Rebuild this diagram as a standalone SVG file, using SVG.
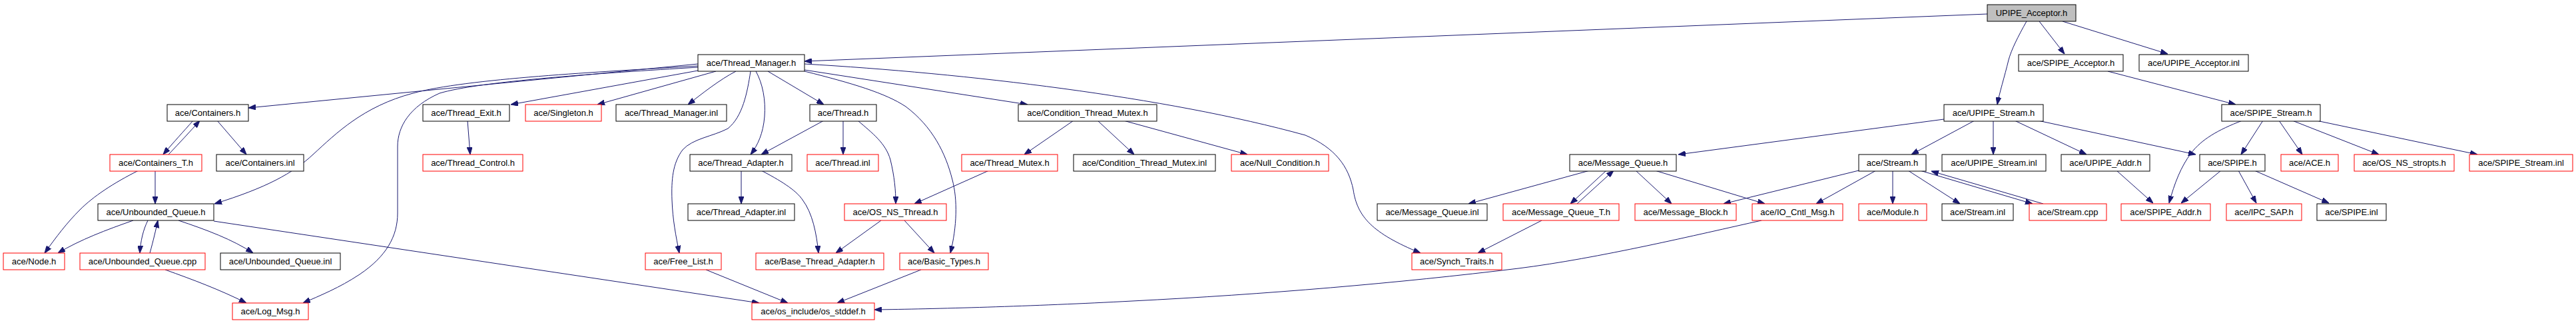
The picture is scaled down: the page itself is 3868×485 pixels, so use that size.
<svg xmlns="http://www.w3.org/2000/svg" width="3868" height="485" viewBox="0 0 3868 485">
<style>
.n rect{fill:#ffffff;stroke:#000000;stroke-width:1}
.r rect{stroke:#ff0000}
.g rect{fill:#bfbfbf}
.n text{font-family:"Liberation Sans",Arial,sans-serif;font-size:13px;fill:#000000;text-anchor:middle}
#edges path{fill:none;stroke:#191970;stroke-width:1;marker-end:url(#ah)}
</style>
<defs>
<marker id="ah" markerWidth="11" markerHeight="8" refX="11" refY="4" orient="auto" markerUnits="userSpaceOnUse"><path d="M0,0 L11,4 L0,8 z" fill="#191970" stroke="#191970" stroke-width="1"/></marker>
</defs>
<rect x="0" y="0" width="3868" height="485" fill="#ffffff"/>
<g id="edges">
<path d="M2984,21 L1208,92"/>
<path d="M3043,32 C3030,55 3020,75 3016,90 C3010,115 3002,140 2999,157"/>
<path d="M3062,32 L3100,81"/>
<path d="M3097,32 L3255,81"/>
<path d="M1048,96 L373,162"/>
<path d="M1048,99 C900,108 700,118 620,140 C545,160 505,200 470,232 C440,260 400,282 322,306"/>
<path d="M1048,101 C900,110 720,122 660,140 C615,160 597,190 597,220 L597,320 C597,355 580,385 540,412 C510,432 480,444 455,455"/>
<path d="M1048,106 L767,157"/>
<path d="M1075,107 L897,157"/>
<path d="M1105,107 C1080,120 1055,140 1033,157"/>
<path d="M1127,107 C1122,140 1115,175 1093,193 C1070,205 1040,208 1025,225 C1010,245 1008,270 1009,300 C1010,330 1015,355 1020,380"/>
<path d="M1135,107 C1145,125 1150,150 1148,175 C1146,200 1138,218 1127,232"/>
<path d="M1153,107 L1237,157"/>
<path d="M1208,107 C1280,125 1330,140 1360,160 C1400,190 1420,230 1430,270 C1438,300 1437,340 1427,380"/>
<path d="M1208,105 L1543,157"/>
<path d="M1208,96 C1450,110 1750,145 1960,203 C2005,222 2025,250 2032,285 C2038,325 2060,350 2133,380"/>
<path d="M290,181 C275,198 262,212 245,232"/>
<path d="M253,232 C270,214 285,198 300,181"/>
<path d="M326,181 L370,232"/>
<path d="M233,256 L233,306"/>
<path d="M208,256 C170,275 140,295 120,315 C100,335 85,355 67,380"/>
<path d="M200,331 C160,345 120,360 87,380"/>
<path d="M222,331 C215,345 211,362 210,380"/>
<path d="M225,380 C230,362 234,345 237,331"/>
<path d="M268,331 C310,345 350,360 380,380"/>
<path d="M321,332 L1140,455"/>
<path d="M248,405 C290,420 330,435 370,455"/>
<path d="M702,181 L706,232"/>
<path d="M1237,181 L1143,232"/>
<path d="M1266,181 L1266,232"/>
<path d="M1288,181 C1310,200 1330,215 1337,240 C1343,265 1345,285 1345,306"/>
<path d="M1113,256 L1113,306"/>
<path d="M1143,256 C1170,270 1195,285 1205,300 C1220,320 1226,350 1229,380"/>
<path d="M1323,331 L1255,380"/>
<path d="M1358,331 L1403,380"/>
<path d="M1383,405 L1257,455"/>
<path d="M1060,405 L1183,455"/>
<path d="M2645,331 C2550,352 2400,388 2280,403 C2100,425 1900,442 1700,452 C1550,460 1400,464 1313,465"/>
<path d="M1485,256 L1373,306"/>
<path d="M1612,181 L1538,232"/>
<path d="M1648,181 L1703,232"/>
<path d="M1687,181 L1873,232"/>
<path d="M2919,179 L2520,232"/>
<path d="M2965,181 L2870,232"/>
<path d="M2993,181 L2993,232"/>
<path d="M3025,181 L3133,232"/>
<path d="M3060,181 L3297,232"/>
<path d="M3165,107 L3357,157"/>
<path d="M3367,181 C3330,195 3305,210 3290,230 C3275,250 3265,275 3257,305"/>
<path d="M3398,181 L3365,232"/>
<path d="M3422,181 L3457,232"/>
<path d="M3442,181 L3572,232"/>
<path d="M3478,181 L3720,232"/>
<path d="M3335,256 L3275,305"/>
<path d="M3361,256 L3388,305"/>
<path d="M3385,256 L3497,305"/>
<path d="M3178,256 L3233,305"/>
<path d="M2791,256 L2588,306"/>
<path d="M2817,256 L2727,306"/>
<path d="M2842,256 L2842,306"/>
<path d="M2865,256 L2943,306"/>
<path d="M2883,256 L3052,306"/>
<path d="M3068,306 L2900,257"/>
<path d="M2387,256 L2205,306"/>
<path d="M2412,256 L2358,306"/>
<path d="M2368,306 L2423,256"/>
<path d="M2456,256 L2510,306"/>
<path d="M2485,256 L2650,306"/>
<path d="M2315,331 L2219,380"/>
</g>
<g id="n_UPIPE_Acceptor_h" class="n g"><rect x="2984" y="7" width="133" height="25"/><text x="3050.5" y="23.5">UPIPE_Acceptor.h</text></g>
<g id="n_Thread_Manager_h" class="n"><rect x="1048" y="82" width="160" height="25"/><text x="1128" y="98.5">ace/Thread_Manager.h</text></g>
<g id="n_SPIPE_Acceptor_h" class="n"><rect x="3031" y="82" width="157" height="25"/><text x="3109.5" y="98.5">ace/SPIPE_Acceptor.h</text></g>
<g id="n_UPIPE_Acceptor_inl" class="n"><rect x="3212" y="82" width="164" height="25"/><text x="3294" y="98.5">ace/UPIPE_Acceptor.inl</text></g>
<g id="n_Containers_h" class="n"><rect x="251" y="157" width="122" height="25"/><text x="312" y="173.5">ace/Containers.h</text></g>
<g id="n_Thread_Exit_h" class="n"><rect x="635" y="157" width="130" height="25"/><text x="700" y="173.5">ace/Thread_Exit.h</text></g>
<g id="n_Singleton_h" class="n r"><rect x="789" y="157" width="114" height="25"/><text x="846" y="173.5">ace/Singleton.h</text></g>
<g id="n_Thread_Manager_inl" class="n"><rect x="925" y="157" width="166" height="25"/><text x="1008" y="173.5">ace/Thread_Manager.inl</text></g>
<g id="n_Thread_h" class="n"><rect x="1216" y="157" width="100" height="25"/><text x="1266" y="173.5">ace/Thread.h</text></g>
<g id="n_Condition_Thread_Mutex_h" class="n"><rect x="1529" y="157" width="208" height="25"/><text x="1633" y="173.5">ace/Condition_Thread_Mutex.h</text></g>
<g id="n_UPIPE_Stream_h" class="n"><rect x="2919" y="157" width="149" height="25"/><text x="2993.5" y="173.5">ace/UPIPE_Stream.h</text></g>
<g id="n_SPIPE_Stream_h" class="n"><rect x="3336" y="157" width="148" height="25"/><text x="3410" y="173.5">ace/SPIPE_Stream.h</text></g>
<g id="n_Containers_T_h" class="n r"><rect x="165" y="232" width="138" height="25"/><text x="234" y="248.5">ace/Containers_T.h</text></g>
<g id="n_Containers_inl" class="n"><rect x="325" y="232" width="131" height="25"/><text x="390.5" y="248.5">ace/Containers.inl</text></g>
<g id="n_Thread_Control_h" class="n r"><rect x="635" y="232" width="150" height="25"/><text x="710" y="248.5">ace/Thread_Control.h</text></g>
<g id="n_Thread_Adapter_h" class="n"><rect x="1036" y="232" width="153" height="25"/><text x="1112.5" y="248.5">ace/Thread_Adapter.h</text></g>
<g id="n_Thread_inl" class="n r"><rect x="1212" y="232" width="107" height="25"/><text x="1265.5" y="248.5">ace/Thread.inl</text></g>
<g id="n_Thread_Mutex_h" class="n r"><rect x="1444" y="232" width="144" height="25"/><text x="1516" y="248.5">ace/Thread_Mutex.h</text></g>
<g id="n_Condition_Thread_Mutex_inl" class="n"><rect x="1612" y="232" width="213" height="25"/><text x="1718.5" y="248.5">ace/Condition_Thread_Mutex.inl</text></g>
<g id="n_Null_Condition_h" class="n r"><rect x="1849" y="232" width="146" height="25"/><text x="1922" y="248.5">ace/Null_Condition.h</text></g>
<g id="n_Message_Queue_h" class="n"><rect x="2357" y="232" width="160" height="25"/><text x="2437" y="248.5">ace/Message_Queue.h</text></g>
<g id="n_Stream_h" class="n"><rect x="2791" y="232" width="101" height="25"/><text x="2841.5" y="248.5">ace/Stream.h</text></g>
<g id="n_UPIPE_Stream_inl" class="n"><rect x="2916" y="232" width="156" height="25"/><text x="2994" y="248.5">ace/UPIPE_Stream.inl</text></g>
<g id="n_UPIPE_Addr_h" class="n"><rect x="3095" y="232" width="133" height="25"/><text x="3161.5" y="248.5">ace/UPIPE_Addr.h</text></g>
<g id="n_SPIPE_h" class="n"><rect x="3303" y="232" width="98" height="25"/><text x="3352" y="248.5">ace/SPIPE.h</text></g>
<g id="n_ACE_h" class="n r"><rect x="3425" y="232" width="86" height="25"/><text x="3468" y="248.5">ace/ACE.h</text></g>
<g id="n_OS_NS_stropts_h" class="n r"><rect x="3535" y="232" width="150" height="25"/><text x="3610" y="248.5">ace/OS_NS_stropts.h</text></g>
<g id="n_SPIPE_Stream_inl" class="n r"><rect x="3708" y="232" width="155" height="25"/><text x="3785.5" y="248.5">ace/SPIPE_Stream.inl</text></g>
<g id="n_Unbounded_Queue_h" class="n"><rect x="147" y="306" width="174" height="25"/><text x="234" y="322.5">ace/Unbounded_Queue.h</text></g>
<g id="n_Thread_Adapter_inl" class="n"><rect x="1033" y="306" width="160" height="25"/><text x="1113" y="322.5">ace/Thread_Adapter.inl</text></g>
<g id="n_OS_NS_Thread_h" class="n r"><rect x="1268" y="306" width="153" height="25"/><text x="1344.5" y="322.5">ace/OS_NS_Thread.h</text></g>
<g id="n_Message_Queue_inl" class="n"><rect x="2068" y="306" width="165" height="25"/><text x="2150.5" y="322.5">ace/Message_Queue.inl</text></g>
<g id="n_Message_Queue_T_h" class="n r"><rect x="2257" y="306" width="174" height="25"/><text x="2344" y="322.5">ace/Message_Queue_T.h</text></g>
<g id="n_Message_Block_h" class="n r"><rect x="2455" y="306" width="152" height="25"/><text x="2531" y="322.5">ace/Message_Block.h</text></g>
<g id="n_IO_Cntl_Msg_h" class="n r"><rect x="2631" y="306" width="136" height="25"/><text x="2699" y="322.5">ace/IO_Cntl_Msg.h</text></g>
<g id="n_Module_h" class="n r"><rect x="2791" y="306" width="102" height="25"/><text x="2842" y="322.5">ace/Module.h</text></g>
<g id="n_Stream_inl" class="n"><rect x="2916" y="306" width="107" height="25"/><text x="2969.5" y="322.5">ace/Stream.inl</text></g>
<g id="n_Stream_cpp" class="n r"><rect x="3047" y="306" width="116" height="25"/><text x="3105" y="322.5">ace/Stream.cpp</text></g>
<g id="n_SPIPE_Addr_h" class="n r"><rect x="3185" y="306" width="134" height="25"/><text x="3252" y="322.5">ace/SPIPE_Addr.h</text></g>
<g id="n_IPC_SAP_h" class="n r"><rect x="3343" y="306" width="113" height="25"/><text x="3399.5" y="322.5">ace/IPC_SAP.h</text></g>
<g id="n_SPIPE_inl" class="n"><rect x="3479" y="306" width="104" height="25"/><text x="3531" y="322.5">ace/SPIPE.inl</text></g>
<g id="n_Node_h" class="n r"><rect x="5" y="380" width="92" height="25"/><text x="51" y="396.5">ace/Node.h</text></g>
<g id="n_Unbounded_Queue_cpp" class="n r"><rect x="120" y="380" width="188" height="25"/><text x="214" y="396.5">ace/Unbounded_Queue.cpp</text></g>
<g id="n_Unbounded_Queue_inl" class="n"><rect x="331" y="380" width="180" height="25"/><text x="421" y="396.5">ace/Unbounded_Queue.inl</text></g>
<g id="n_Free_List_h" class="n r"><rect x="969" y="380" width="114" height="25"/><text x="1026" y="396.5">ace/Free_List.h</text></g>
<g id="n_Base_Thread_Adapter_h" class="n r"><rect x="1135" y="380" width="192" height="25"/><text x="1231" y="396.5">ace/Base_Thread_Adapter.h</text></g>
<g id="n_Basic_Types_h" class="n r"><rect x="1351" y="380" width="133" height="25"/><text x="1417.5" y="396.5">ace/Basic_Types.h</text></g>
<g id="n_Synch_Traits_h" class="n r"><rect x="2120" y="380" width="135" height="25"/><text x="2187.5" y="396.5">ace/Synch_Traits.h</text></g>
<g id="n_Log_Msg_h" class="n r"><rect x="349" y="455" width="114" height="25"/><text x="406" y="471.5">ace/Log_Msg.h</text></g>
<g id="n_os_stddef_h" class="n r"><rect x="1129" y="455" width="184" height="25"/><text x="1221" y="471.5">ace/os_include/os_stddef.h</text></g>
</svg>
